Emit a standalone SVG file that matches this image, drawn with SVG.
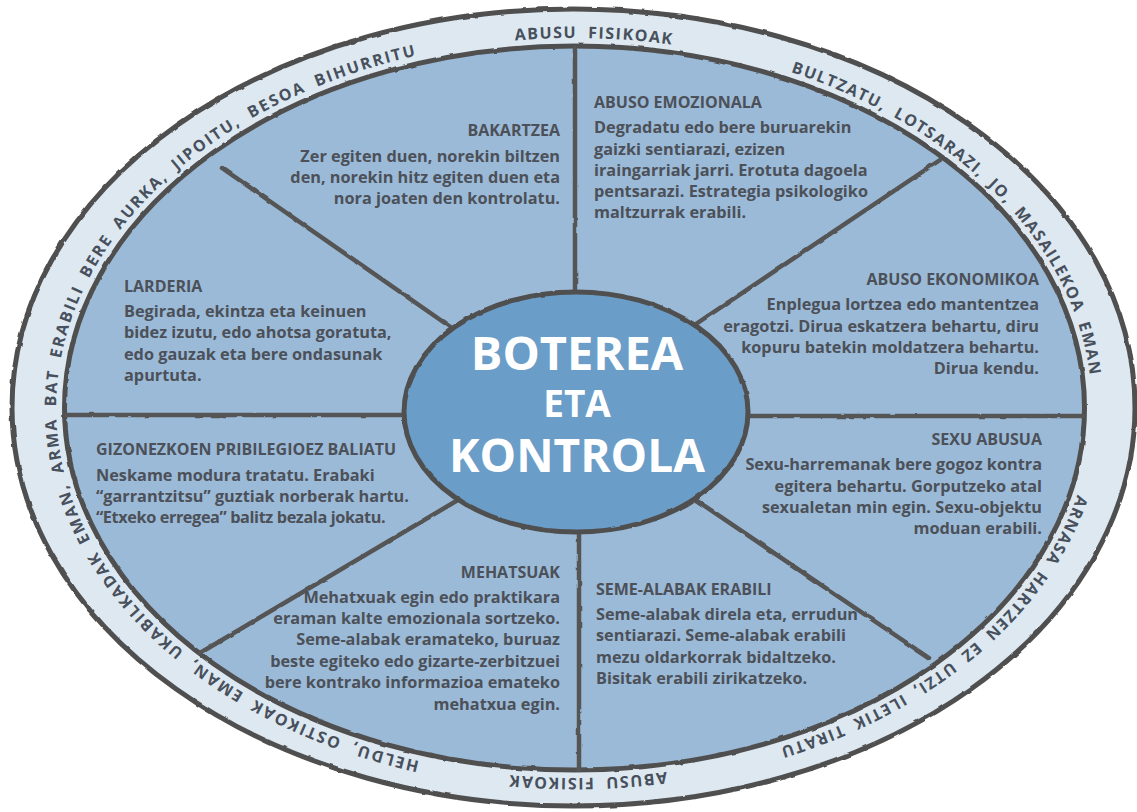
<svg xmlns="http://www.w3.org/2000/svg" width="1137" height="812" viewBox="0 0 1137 812">
<defs>
<style>
.ring{fill:#dde8f1;stroke:#505050;stroke-width:5}
.sect{fill:#9bbad7;stroke:#505050;stroke-width:5}
.hub{fill:#6b9dc8;stroke:#505050;stroke-width:5}
.spoke{stroke:#545454;stroke-width:4.5;stroke-linecap:round;fill:none}
.rt{font-family:"Open Sans","Liberation Sans",sans-serif;font-weight:700;font-size:16px;fill:#47505c;letter-spacing:1.5px;word-spacing:5px}
.rt.wide{letter-spacing:1.9px}
.h{font-family:"Open Sans","Liberation Sans",sans-serif;font-weight:700;font-size:16px;fill:#4c5058}
.b{font-family:"Open Sans","Liberation Sans",sans-serif;font-weight:700;font-size:16.3px;fill:#4c5058}
.b.tight{letter-spacing:-0.4px}
.r{text-anchor:end}
.c{font-family:"Open Sans","Liberation Sans",sans-serif;font-weight:700;fill:#ffffff;text-anchor:middle}
</style>
<filter id="rough" x="-5%" y="-5%" width="110%" height="110%">
<feTurbulence type="fractalNoise" baseFrequency="0.08" numOctaves="2" seed="3"/>
<feDisplacementMap in="SourceGraphic" scale="2.5" xChannelSelector="R" yChannelSelector="G"/>
</filter>
<path id="rp" d="M 484.05 772.38 A 518 370 0 0 1 663.95 43.62 A 518 370 0 0 1 484.05 772.38"/>
</defs>
<rect width="1137" height="812" fill="#ffffff"/>
<g id="ring">
<ellipse class="ring" cx="573.5" cy="407.5" rx="561.5" ry="398.5" filter="url(#rough)"/>
<ellipse class="sect" cx="574.5" cy="408" rx="510" ry="362" filter="url(#rough)"/>
<text class="rt wide"><textPath href="#rp" startOffset="610.8" text-anchor="middle">HELDU, OSTIKOAK EMAN, UKABILKADAK EMAN, ARMA BAT ERABILI BERE AURKA, JIPOITU, BESOA BIHURRITU</textPath></text>
<text class="rt"><textPath href="#rp" startOffset="1333.7" text-anchor="middle">ABUSU FISIKOAK</textPath></text>
<text class="rt"><textPath href="#rp" startOffset="1759.1" text-anchor="middle">BULTZATU, LOTSARAZI, JO, MASAILEKOA EMAN</textPath></text>
<text class="rt"><textPath href="#rp" startOffset="2306.8" text-anchor="middle">ARNASA HARTZEN EZ UTZI, ILETIK TIRATU</textPath></text>
<text class="rt"><textPath href="#rp" startOffset="2704" text-anchor="middle">ABUSU FISIKOAK</textPath></text>
</g>
<g id="connectors" filter="url(#rough)">
<line class="spoke" x1="575" y1="48" x2="575" y2="320"/>
<line class="spoke" x1="940" y1="160" x2="690" y2="328"/>
<line class="spoke" x1="1083" y1="416" x2="730" y2="416"/>
<line class="spoke" x1="929" y1="658" x2="690" y2="496"/>
<line class="spoke" x1="579" y1="770" x2="579" y2="510"/>
<line class="spoke" x1="200" y1="653" x2="463" y2="497"/>
<line class="spoke" x1="66" y1="415" x2="420" y2="415"/>
<line class="spoke" x1="222" y1="168" x2="462" y2="335"/>
</g>
<g id="center">
<ellipse class="hub" cx="576" cy="412" rx="172" ry="120" filter="url(#rough)"/>
<text class="c" x="577" y="370" font-size="47">BOTEREA</text>
<text class="c" x="577" y="417" font-size="37">ETA</text>
<text class="c" x="577" y="472" font-size="46">KONTROLA</text>
</g>
<g id="bakartzea">
<text class="h r" x="560" y="136">BAKARTZEA</text>
<text class="b r" x="560" y="162">Zer egiten duen, norekin biltzen</text>
<text class="b r" x="560" y="183">den, norekin hitz egiten duen eta</text>
<text class="b r" x="560" y="204">nora joaten den kontrolatu.</text>
</g>
<g id="abuso-emozionala">
<text class="h" x="594" y="108">ABUSO EMOZIONALA</text>
<text class="b" x="594" y="133">Degradatu edo bere buruarekin</text>
<text class="b" x="594" y="155">gaizki sentiarazi, ezizen</text>
<text class="b" x="594" y="176">iraingarriak jarri. Erotuta dagoela</text>
<text class="b" x="594" y="197">pentsarazi. Estrategia psikologiko</text>
<text class="b" x="594" y="218">maltzurrak erabili.</text>
</g>
<g id="larderia">
<text class="h" x="124" y="292">LARDERIA</text>
<text class="b" x="124" y="317">Begirada, ekintza eta keinuen</text>
<text class="b" x="124" y="338">bidez izutu, edo ahotsa goratuta,</text>
<text class="b" x="124" y="360">edo gauzak eta bere ondasunak</text>
<text class="b" x="124" y="381">apurtuta.</text>
</g>
<g id="abuso-ekonomikoa">
<text class="h r" x="1039" y="285">ABUSO EKONOMIKOA</text>
<text class="b r" x="1039" y="310">Enplegua lortzea edo mantentzea</text>
<text class="b r" x="1039" y="332">eragotzi. Dirua eskatzera behartu, diru</text>
<text class="b r" x="1039" y="353">kopuru batekin moldatzera behartu.</text>
<text class="b r" x="1039" y="374">Dirua kendu.</text>
</g>
<g id="gizonezkoen">
<text class="h" x="96" y="455">GIZONEZKOEN PRIBILEGIOEZ BALIATU</text>
<text class="b" x="96" y="481">Neskame modura tratatu. Erabaki</text>
<text class="b" x="96" y="502">“garrantzitsu” guztiak norberak hartu.</text>
<text class="b tight" x="96" y="523">“Etxeko erregea” balitz bezala jokatu.</text>
</g>
<g id="sexu-abusua">
<text class="h r" x="1042" y="445">SEXU ABUSUA</text>
<text class="b r" x="1042" y="470">Sexu-harremanak bere gogoz kontra</text>
<text class="b r" x="1042" y="492">egitera behartu. Gorputzeko atal</text>
<text class="b r" x="1042" y="513">sexualetan min egin. Sexu-objektu</text>
<text class="b r" x="1042" y="534">moduan erabili.</text>
</g>
<g id="mehatsuak">
<text class="h r" x="560" y="578">MEHATSUAK</text>
<text class="b r" x="560" y="603">Mehatxuak egin edo praktikara</text>
<text class="b r" x="560" y="624">eraman kalte emozionala sortzeko.</text>
<text class="b r" x="560" y="645">Seme-alabak eramateko, buruaz</text>
<text class="b r" x="560" y="667">beste egiteko edo gizarte-zerbitzuei</text>
<text class="b r" x="560" y="688">bere kontrako informazioa emateko</text>
<text class="b r" x="560" y="710">mehatxua egin.</text>
</g>
<g id="seme-alabak">
<text class="h" x="596" y="595">SEME-ALABAK ERABILI</text>
<text class="b" x="596" y="620">Seme-alabak direla eta, errudun</text>
<text class="b" x="596" y="641">sentiarazi. Seme-alabak erabili</text>
<text class="b" x="596" y="663">mezu oldarkorrak bidaltzeko.</text>
<text class="b" x="596" y="684">Bisitak erabili zirikatzeko.</text>
</g>
</svg>
